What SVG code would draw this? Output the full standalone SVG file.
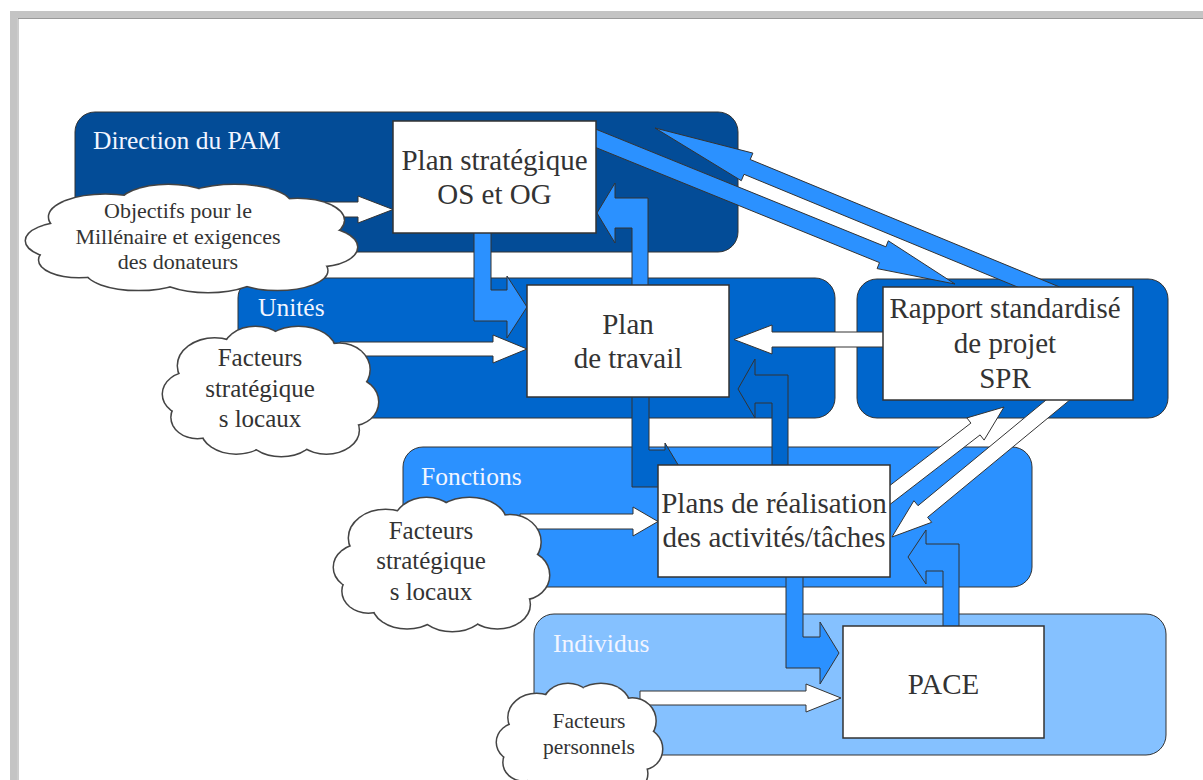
<svg xmlns="http://www.w3.org/2000/svg" xmlns:xlink="http://www.w3.org/1999/xlink" width="1203" height="780" viewBox="0 0 1203 780">
<style>
.lane{stroke:#333;stroke-width:1}
.box{fill:#fff;stroke:#333;stroke-width:1.5}
.aw{fill:#fff;stroke:#333;stroke-width:1;stroke-linejoin:miter}
.al{fill:#2b91ff;stroke:#333;stroke-width:1}
.ad{fill:#0066cc;stroke:#333;stroke-width:1}
text{font-family:'Liberation Serif','DejaVu Serif',serif;fill:#333;text-anchor:middle}
.bt{font-size:29px}
.lt{font-size:25.5px;fill:#f2f5ff;text-anchor:start}
.c1{font-size:22px}
.c2{font-size:25px}
.c4{font-size:21.5px}
.cs ellipse{fill:#fff;stroke:#444;stroke-width:3;vector-effect:non-scaling-stroke}
.cf ellipse{fill:#fff;stroke:none}
</style>
<defs>
<symbol id="cloud" viewBox="0 0 100 100" preserveAspectRatio="none" overflow="visible">
<g class="cs">
<ellipse cx="13" cy="52" rx="13" ry="17"/><ellipse cx="24" cy="30" rx="17" ry="21"/><ellipse cx="43" cy="19" rx="15" ry="19"/><ellipse cx="63" cy="18" rx="17" ry="18"/><ellipse cx="82" cy="33" rx="14" ry="20"/><ellipse cx="88" cy="58" rx="12" ry="18"/><ellipse cx="76" cy="80" rx="15" ry="18"/><ellipse cx="55" cy="82" rx="16" ry="18"/><ellipse cx="34" cy="80" rx="16" ry="18"/><ellipse cx="16" cy="70" rx="12" ry="16"/>
</g>
<g class="cf">
<ellipse cx="13" cy="52" rx="13" ry="17"/><ellipse cx="24" cy="30" rx="17" ry="21"/><ellipse cx="43" cy="19" rx="15" ry="19"/><ellipse cx="63" cy="18" rx="17" ry="18"/><ellipse cx="82" cy="33" rx="14" ry="20"/><ellipse cx="88" cy="58" rx="12" ry="18"/><ellipse cx="76" cy="80" rx="15" ry="18"/><ellipse cx="55" cy="82" rx="16" ry="18"/><ellipse cx="34" cy="80" rx="16" ry="18"/><ellipse cx="16" cy="70" rx="12" ry="16"/><ellipse cx="50" cy="52" rx="38" ry="30"/>
</g>
</symbol>
</defs>
<rect x="0" y="0" width="1203" height="780" fill="#fff"/>
<g id="frame">
<rect x="13.5" y="14.5" width="1300" height="900" fill="none" stroke="#c4c4c4" stroke-width="7"/>
<rect x="18" y="18.5" width="1300" height="900" fill="none" stroke="#9a9a9a" stroke-width="1"/>
</g>
<g font-family="Liberation Serif, DejaVu Serif, serif">
<g id="lane-direction"><rect class="lane" x="75" y="112" width="663" height="140" rx="20" fill="#034c97"/><text class="lt" x="93" y="149">Direction du PAM</text></g>
<g id="lane-unites"><rect class="lane" x="238" y="278" width="597" height="140" rx="20" fill="#0066cc"/><text class="lt" x="258" y="316">Unités</text></g>
<g id="lane-rapport"><rect class="lane" x="857" y="279" width="311" height="139" rx="20" fill="#0066cc"/></g>
<g id="lane-fonctions"><rect class="lane" x="403" y="447" width="629" height="140" rx="20" fill="#2b91ff"/><text class="lt" x="421" y="485">Fonctions</text></g>
<g id="lane-individus"><rect class="lane" x="534" y="614" width="632" height="141" rx="20" fill="#85c1ff"/><text class="lt" x="553" y="652">Individus</text></g>
<g id="connectors">
<polygon class="aw" points="300,202 358,202 358,196 393,209.5 358,223 358,217 300,217"/>
<polygon class="aw" points="340,342 493,342 493,335 527,349 493,363 493,356 340,356"/>
<polygon class="aw" points="890,332 772,332 772,325 734,339.5 772,354 772,347 890,347"/>
<polygon class="aw" points="520,514 633,514 633,507 658,521.5 633,536 633,529 520,529"/>
<polygon class="aw" points="640,691 806,691 806,684 841,698 806,712 806,705 640,705"/>
<polygon class="aw" points="886.6,507 980.1,434.9 984.1,440.1 1004,407 966.9,417.9 970.9,423.1 877.4,495.1"/>
<polygon class="aw" points="1060.9,387.8 918,505.7 913.9,500.7 892,537 931.7,522.3 927.6,517.3 1070.5,399.4"/>
<polygon class="al" points="586.8,143.9 879.5,262.6 877.1,268.6 955,284 888.3,240.8 885.9,246.8 593.2,128.1"/>
<polygon class="al" points="1059.6,287 750.2,159.5 752.9,153.1 655,128 741.3,180.7 744,174.3 1053.4,301.8"/>
<polygon class="al" points="474,230 491,230 491,290 507,290 507,276 527,307 507,338 507,321 474,321"/>
<polygon class="ad" points="632,394 649,394 649,450 665,450 665,443 680,468 665,494 665,487 632,487"/>
<polygon class="al" points="786,575 803,575 803,637 820,637 820,622 839,653 820,684 820,668 786,668"/>
<polygon class="al" points="648,288 648,198 615,198 615,183 597,213 615,243 615,228 632,228 632,288"/>
<polygon class="ad" points="788,468 788,375 755,375 755,359 738,389 755,418 755,403 772,403 772,468"/>
<polygon class="al" points="959,629 959,544 926,544 926,530 908,557 926,584 926,571 943,571 943,629"/>
</g>
<g id="cloud-objectifs"><use xlink:href="#cloud" x="26" y="185" width="331" height="107" overflow="visible"/>
<text class="c1" x="178" y="218">Objectifs pour le</text><text class="c1" x="178" y="244">Millénaire et exigences</text><text class="c1" x="178" y="269">des donateurs</text></g>
<g id="cloud-unites"><use xlink:href="#cloud" x="163" y="327" width="215" height="129" overflow="visible"/>
<text class="c2" x="260" y="366">Facteurs</text><text class="c2" x="260" y="397">stratégique</text><text class="c2" x="260" y="427">s locaux</text></g>
<g id="cloud-fonctions"><use xlink:href="#cloud" x="334" y="498" width="215" height="133" overflow="visible"/>
<text class="c2" x="431" y="539">Facteurs</text><text class="c2" x="431" y="569">stratégique</text><text class="c2" x="431" y="600">s locaux</text></g>
<g id="cloud-individus"><use xlink:href="#cloud" x="497" y="684" width="165" height="112" overflow="visible"/>
<text class="c4" x="589" y="728">Facteurs</text><text class="c4" x="589" y="754">personnels</text></g>
<g id="node-plan-strategique"><rect class="box" x="393" y="121" width="203" height="112"/><text class="bt" x="494.5" y="170">Plan stratégique</text><text class="bt" x="494.5" y="204">OS et OG</text></g>
<g id="node-plan-travail"><rect class="box" x="527" y="285" width="202" height="112"/><text class="bt" x="628" y="334">Plan</text><text class="bt" x="628" y="368">de travail</text></g>
<g id="node-rapport"><rect class="box" x="883" y="287" width="250" height="113"/><text class="bt" x="1005" y="318">Rapport standardisé</text><text class="bt" x="1005" y="353">de projet</text><text class="bt" x="1005" y="388">SPR</text></g>
<g id="node-plans-realisation"><rect class="box" x="658" y="465" width="232" height="112"/><text class="bt" x="774" y="513">Plans de réalisation</text><text class="bt" x="774" y="547">des activités/tâches</text></g>
<g id="node-pace"><rect class="box" x="843" y="626" width="201" height="112"/><text class="bt" x="943.5" y="694">PACE</text></g>
</g>
</svg>
